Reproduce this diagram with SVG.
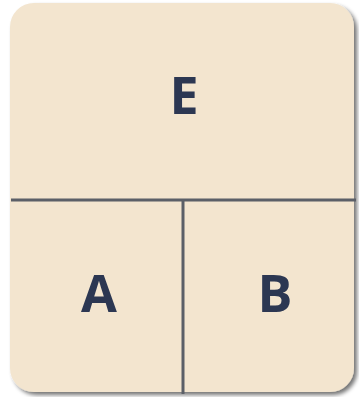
<svg xmlns="http://www.w3.org/2000/svg" width="359" height="397" viewBox="0 0 359 397">
  <defs>
    <filter id="sh" x="-10%" y="-10%" width="120%" height="120%">
      <feGaussianBlur in="SourceAlpha" stdDeviation="2"/>
      <feOffset dx="3" dy="3"/>
      <feComponentTransfer><feFuncA type="linear" slope="0.55"/></feComponentTransfer>
      <feMerge><feMergeNode/><feMergeNode in="SourceGraphic"/></feMerge>
    </filter>
  </defs>
  <style>
    .lbl { font-family: "Open Sans", "Liberation Sans", sans-serif; font-weight: bold; font-size: 52px; fill: #2C3752; text-anchor: middle; }
    .div { stroke: #5B5F67; stroke-width: 3; fill: none; }
  </style>
  <rect x="0" y="0" width="359" height="397" fill="#FFFFFF"/>
  <g id="frame">
    <rect x="10" y="3" width="344" height="389" rx="24" ry="24" fill="#F3E5CF" filter="url(#sh)"/>
  </g>
  <g id="connectors">
    <line class="div" x1="11" y1="200" x2="356" y2="200"/>
    <line class="div" x1="183" y1="200" x2="183" y2="394"/>
  </g>
  <g id="E"><text class="lbl" x="184" y="114">E</text></g>
  <g id="A"><text class="lbl" x="99" y="312">A</text></g>
  <g id="B"><text class="lbl" x="275" y="312">B</text></g>
</svg>
